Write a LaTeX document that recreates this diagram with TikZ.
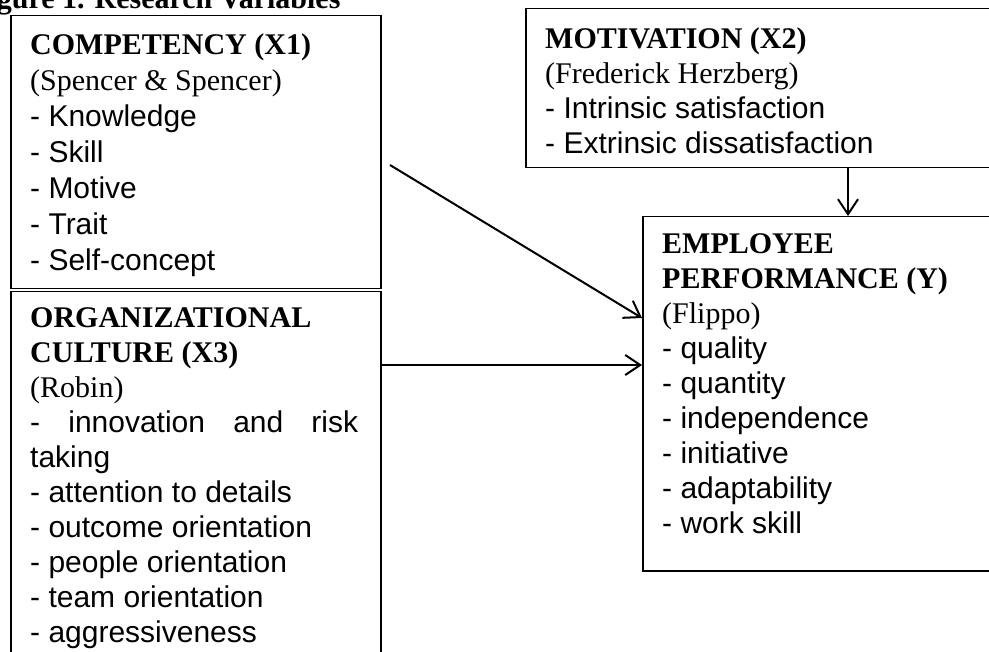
\documentclass[tikz,border=0pt]{standalone}
\usepackage{fontspec}
\setmainfont{Liberation Serif}
\newfontfamily\sansf{Liberation Sans}
\usetikzlibrary{arrows.meta}
\begin{document}
\begin{tikzpicture}[x=1pt,y=-1pt,
  box/.style={draw=black,line width=1.5pt,rectangle,inner sep=0pt,anchor=north west},
  txt/.style={anchor=north west,inner sep=0pt,align=left,font=\fontsize{30}{35}\selectfont},
  conn/.style={line width=2pt,-{Straight Barb[length=15pt,width=20pt]}},
  ttl/.style={anchor=base west,inner sep=0pt,font=\fontsize{30}{35}\selectfont\bfseries}]
\useasboundingbox (0,0) rectangle (989,652);
\clip (0,0) rectangle (989,652);
% title (cut at top)
\node[ttl] (title) at (-30,9) {Figure 1. Research Variables};
% boxes
\node[box,minimum width=370pt,minimum height=273pt] (comp) at (10,15) {};
\node[box,minimum width=370pt,minimum height=420pt] (org) at (10,291) {};
\node[box,minimum width=480pt,minimum height=159pt] (mot) at (525,8) {};
\node[box,minimum width=360pt,minimum height=354pt] (emp) at (642,216) {};
% texts
\node[txt,font=\fontsize{30}{36}\selectfont] (compT) at (30,28.8) {\strut\textbf{COMPETENCY (X1)}\\
\strut(Spencer \& Spencer)\\
\strut\sansf - Knowledge\\
\strut\sansf - Skill\\
\strut\sansf - Motive\\
\strut\sansf - Trait\\
\strut\sansf - Self-concept};
\node[txt] (orgT) at (30,302.5) {\strut\textbf{ORGANIZATIONAL}\\
\strut\textbf{CULTURE (X3)}\\
\strut(Robin)\\
\strut\sansf\hbox to 328pt{-\hfill innovation\hfill and\hfill risk}\\
\strut\sansf taking\\
\strut\sansf - attention to details\\
\strut\sansf - outcome orientation\\
\strut\sansf - people orientation\\
\strut\sansf - team orientation\\
\strut\sansf - aggressiveness};
\node[txt] (motT) at (545,23.5) {\strut\textbf{MOTIVATION (X2)}\\
\strut(Frederick Herzberg)\\
\strut\sansf - Intrinsic satisfaction\\
\strut\sansf - Extrinsic dissatisfaction};
\node[txt] (empT) at (662,228.5) {\strut\textbf{EMPLOYEE}\\
\strut\textbf{PERFORMANCE (Y)}\\
\strut(Flippo)\\
\strut\sansf - quality\\
\strut\sansf - quantity\\
\strut\sansf - independence\\
\strut\sansf - initiative\\
\strut\sansf - adaptability\\
\strut\sansf - work skill};
% connectors
\coordinate (dstart) at (390,165);
\coordinate (dend) at (emp.west |- 0,318);
\draw[conn] (dstart) -- (dend);
\draw[conn] (org.east |- 0,365) -- (emp.west |- 0,365);
\draw[conn] (mot.south -| 848,0) -- (emp.north -| 848,0);
\end{tikzpicture}
\end{document}
